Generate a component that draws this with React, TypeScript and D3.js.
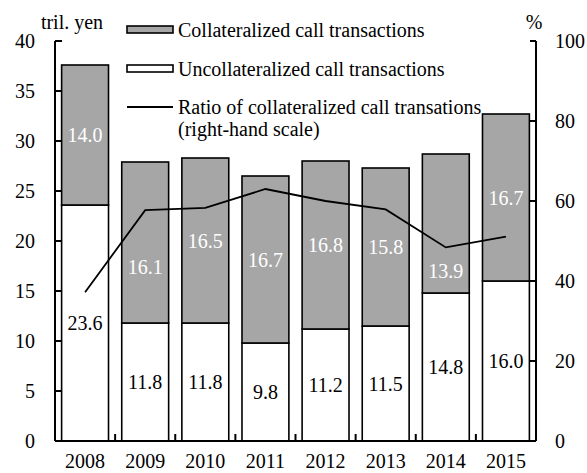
import React from "react";
import * as d3 from "d3";

const years = ["2008", "2009", "2010", "2011", "2012", "2013", "2014", "2015"];
const uncollateralized = [23.6, 11.8, 11.8, 9.8, 11.2, 11.5, 14.8, 16.0];
const collateralized = [14.0, 16.1, 16.5, 16.7, 16.8, 15.8, 13.9, 16.7];
const ratio = [37.2, 57.7, 58.3, 63.0, 60.0, 57.9, 48.4, 51.1];
const leftTicks = [0, 5, 10, 15, 20, 25, 30, 35, 40];
const rightTicks = [0, 20, 40, 60, 80, 100];

// manual nudges (in tril. yen) of the collateralized labels, as in the original
const collatLabelNudge = [0, -2.4, 0, 0, 0, 0, -4.7, 0];

const W = 587;
const H = 473;
const L = 55;
const R = 536;
const T = 41;
const B = 441;
const FS = 20;
const GREY = "#a6a6a6";

function Txt(props: any) {
  const { children, ...rest } = props;
  return (
    <text {...rest} fontSize={FS} fontFamily="Liberation Serif, Times New Roman, Tinos, serif">
      {children}
    </text>
  );
}

export default function App() {
  const x = d3.scaleBand<string>().domain(years).range([L, R]).paddingInner(0.22).paddingOuter(0.11);
  const step = x.step();
  const bw = x.bandwidth();
  const y = d3.scaleLinear().domain([0, 40]).range([B, T]);
  const y2 = d3.scaleLinear().domain([0, 100]).range([B, T]);
  const cx = (i: number) => (x(years[i]) as number) + bw / 2;

  const line = d3
    .line<number>()
    .x((_, i) => cx(i))
    .y((d) => y2(d));

  return (
    <svg width={W} height={H} style={{ position: "absolute", left: 0, top: 0 }}>
      {/* bars */}
      {years.map((yr, i) => {
        const x0 = x(yr) as number;
        const u = uncollateralized[i];
        const c = collateralized[i];
        return (
          <g key={yr}>
            <rect x={x0} y={y(u)} width={bw} height={y(0) - y(u)} fill="#fff" stroke="#000" strokeWidth={1.6} />
            <rect x={x0} y={y(u + c)} width={bw} height={y(u) - y(u + c)} fill={GREY} stroke="#000" strokeWidth={1.6} />
          </g>
        );
      })}
      {/* value labels */}
      {years.map((yr, i) => {
        const u = uncollateralized[i];
        const c = collateralized[i];
        return (
          <g key={"l" + yr}>
            <Txt x={cx(i)} y={y(u / 2)} dy="0.35em" fill="#000" textAnchor="middle">
              {u.toFixed(1)}
            </Txt>
            <Txt x={cx(i)} y={y(u + c / 2 + collatLabelNudge[i])} dy="0.35em" fill="#fff" textAnchor="middle">
              {c.toFixed(1)}
            </Txt>
          </g>
        );
      })}
      {/* ratio line */}
      <path d={line(ratio) || ""} fill="none" stroke="#000" strokeWidth={1.8} />
      {/* axes */}
      <line x1={L} x2={L} y1={T} y2={B} stroke="#000" strokeWidth={2} />
      <line x1={R} x2={R} y1={T} y2={B} stroke="#000" strokeWidth={2} />
      <line x1={L} x2={R} y1={B} y2={B} stroke="#000" strokeWidth={2} />
      {leftTicks.map((t) => (
        <g key={"lt" + t}>
          <line x1={L} x2={L + 7} y1={y(t)} y2={y(t)} stroke="#000" strokeWidth={2} />
          <Txt x={35} y={y(t)} dy="0.35em" textAnchor="end">
            {t}
          </Txt>
        </g>
      ))}
      {rightTicks.map((t) => (
        <g key={"rt" + t}>
          <line x1={R - 6} x2={R} y1={y2(t)} y2={y2(t)} stroke="#000" strokeWidth={2} />
          <Txt x={555} y={y2(t)} dy="0.35em" textAnchor="start">
            {t}
          </Txt>
        </g>
      ))}
      {years.slice(1).map((yr, i) => {
        const bx = L + step * (i + 1);
        return <line key={"xt" + yr} x1={bx} x2={bx} y1={B} y2={B - 7} stroke="#000" strokeWidth={2} />;
      })}
      {years.map((yr, i) => (
        <Txt key={"xl" + yr} x={cx(i)} y={468} textAnchor="middle">
          {yr}
        </Txt>
      ))}
      {/* axis titles */}
      <Txt x={72} y={29} textAnchor="middle">tril. yen</Txt>
      <Txt x={534} y={29} textAnchor="middle">%</Txt>
      {/* legend */}
      <rect x={127} y={26} width={46} height={7} fill={GREY} stroke="#000" strokeWidth={1.6} />
      <Txt x={178} y={30} dy="0.35em">Collateralized call transactions</Txt>
      <rect x={127} y={65} width={46} height={7} fill="#fff" stroke="#000" strokeWidth={1.6} />
      <Txt x={178} y={69} dy="0.35em">Uncollateralized call transactions</Txt>
      <line x1={127} x2={173} y1={107} y2={107} stroke="#000" strokeWidth={1.8} />
      <Txt x={178} y={107} dy="0.35em">Ratio of collateralized call transations</Txt>
      <Txt x={178} y={129} dy="0.35em">(right-hand scale)</Txt>
    </svg>
  );
}
